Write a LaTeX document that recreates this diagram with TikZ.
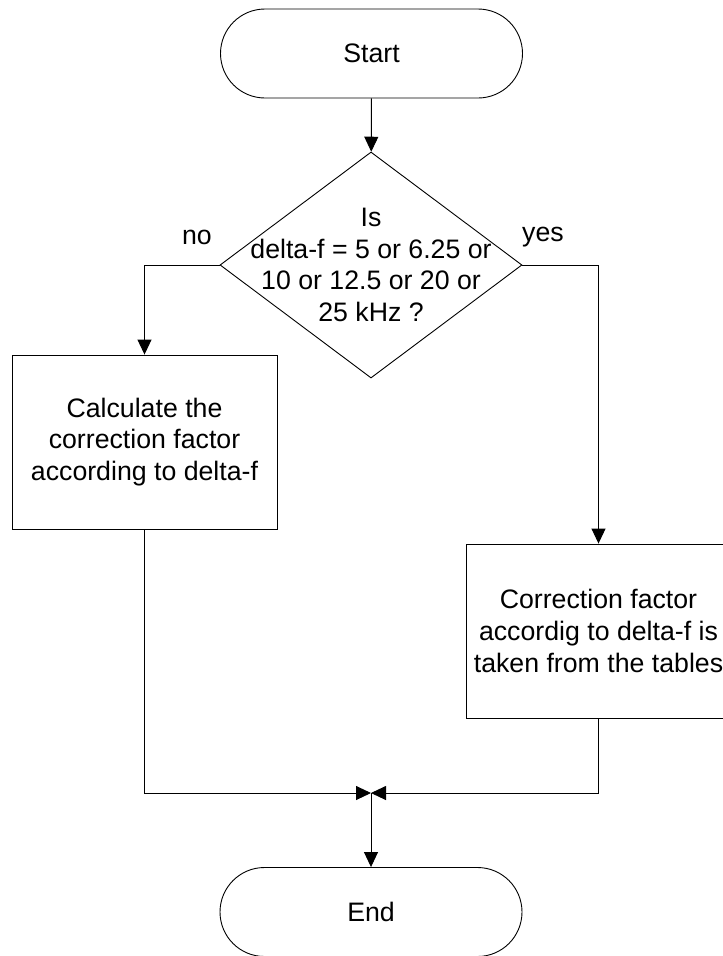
\documentclass[tikz,border=0pt]{standalone}
\usepackage{fontspec}
\setmainfont{Liberation Sans}
\usetikzlibrary{shapes.geometric,shapes.misc,arrows.meta}
\begin{document}
\begin{tikzpicture}[x=1pt,y=-1pt,
  every node/.style={font=\fontsize{26.7}{31.7}\selectfont, inner sep=0pt},
  line/.style={draw=black, line width=0.9pt},
  arr/.style={line, -{Triangle[length=15pt,width=14pt]}},
  terminal/.style={line, rounded rectangle, minimum width=302pt, minimum height=89pt},
  decision/.style={line, diamond, minimum width=302pt, minimum height=226pt},
  process/.style={line, rectangle, minimum width=265pt, minimum height=174pt, align=center},
  lbl/.style={}]
  % page frame
  \useasboundingbox (0,0) rectangle (723,956);
  \fill[white] (0,0) rectangle (723,956);

  % flowchart nodes
  \node[terminal] (start) at (371.5,53.5) {Start};
  \node[decision] (dec) at (371,265) {};
  \node[align=center] (dectext) at (371,265) {Is\\delta-f = 5 or 6.25 or\\10 or 12.5 or 20 or\\25 kHz ?};
  \node[process] (calc) at (144.5,442) {Calculate the\\correction factor\\according to delta-f};
  \node[process] (table) at (598.5,631) {Correction factor\\accordig to delta-f is\\taken from the tables};
  \node[terminal] (end) at (371,912) {End};
  \coordinate (merge) at (371,793);

  % branch labels
  \node[lbl] (no) at (197,237) {no};
  \node[lbl] (yes) at (543,237) {yes};

  % connectors
  \draw[arr] (start) -- (dec);
  \draw[arr] (dec.west) -| (calc.north);
  \draw[arr] (dec.east) -| (table.north);
  \draw[arr] (calc.south) |- (merge);
  \draw[arr] (table.south) |- (merge);
  \draw[arr] (merge) -- (end);
\end{tikzpicture}
\end{document}
